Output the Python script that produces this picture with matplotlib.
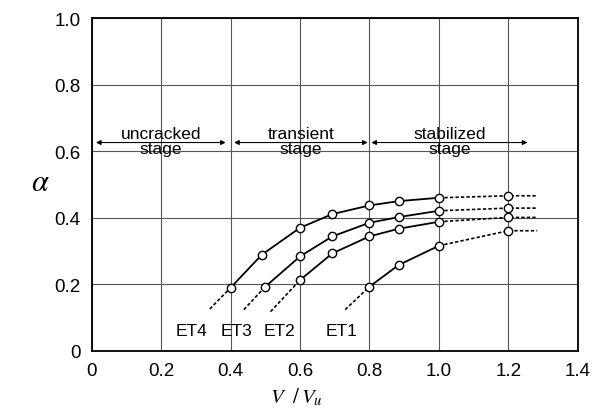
import matplotlib
matplotlib.use("Agg")
import matplotlib.pyplot as plt

plt.rcParams['font.family'] = ['Liberation Sans', 'DejaVu Sans']
plt.rcParams['mathtext.fontset'] = 'stix'

# ---- data ----
series = ["ET4", "ET3", "ET2", "ET1"]
x_et4 = [0.40, 0.49, 0.60, 0.693, 0.80, 0.884, 1.00]
a_et4 = [0.19, 0.289, 0.37, 0.411, 0.437, 0.450, 0.460]
x_et3 = [0.50, 0.60, 0.693, 0.80, 0.884, 1.00]
a_et3 = [0.193, 0.284, 0.344, 0.385, 0.402, 0.421]
x_et2 = [0.60, 0.693, 0.80, 0.884, 1.00]
a_et2 = [0.213, 0.293, 0.344, 0.367, 0.388]
x_et1 = [0.80, 0.884, 1.00]
a_et1 = [0.193, 0.258, 0.316]
# extrapolated points at V/Vu = 1.2
x_ext = 1.2
a_ext = [0.466, 0.429, 0.401, 0.361]
x_tail = 1.283
# start of leading dashed segments
x_lead = [0.34, 0.438, 0.515, 0.73]
a_lead = [0.126, 0.124, 0.118, 0.124]
# label positions
x_lab = [0.288, 0.416, 0.542, 0.72]
y_lab = 0.060

xticks = [0, 0.2, 0.4, 0.6, 0.8, 1.0, 1.2, 1.4]
xticklabels = ["0", "0.2", "0.4", "0.6", "0.8", "1.0", "1.2", "1.4"]
yticks = [0, 0.2, 0.4, 0.6, 0.8, 1.0]
yticklabels = ["0", "0.2", "0.4", "0.6", "0.8", "1.0"]

stages = [("uncracked\nstage", 0.012, 0.386), ("transient\nstage", 0.41, 0.795),
          ("stabilized\nstage", 0.805, 1.255)]
stage_y = 0.626

fig = plt.figure(figsize=(5.92, 4.14), dpi=100)
ax = fig.add_axes([0.155, 0.150, 0.821, 0.804])
ax.set_xlim(0, 1.4)
ax.set_ylim(0, 1.0)
ax.set_xticks(xticks)
ax.set_xticklabels(xticklabels)
ax.set_yticks(yticks)
ax.set_yticklabels(yticklabels)
ax.tick_params(length=0, labelsize=13.5, pad=8)
ax.grid(True, color='#555555', lw=0.8)
ax.set_axisbelow(True)
for s in ax.spines.values():
    s.set_linewidth(1.3)
    s.set_color('black')

xs = [x_et4, x_et3, x_et2, x_et1]
ys = [a_et4, a_et3, a_et2, a_et1]
mk = dict(marker='o', ms=6, mfc='white', mec='black', mew=1.0)
for i in range(4):
    ax.plot([x_lead[i], xs[i][0]], [a_lead[i], ys[i][0]], ls=(0, (2, 1.3)), color='black', lw=1.2, zorder=2)
    ax.plot([xs[i][-1], x_ext, x_tail], [ys[i][-1], a_ext[i], a_ext[i]], ls=(0, (2, 1.3)),
            color='black', lw=1.2, zorder=2)
    ax.plot([x_ext], [a_ext[i]], ls='none', zorder=4, **mk)
    ax.plot(xs[i], ys[i], color='black', lw=1.3, zorder=3, **mk)
    ax.text(x_lab[i], y_lab, series[i], ha='center', va='center', fontsize=12.5)

for label, x0, x1 in stages:
    ax.annotate('', xy=(x1, stage_y), xytext=(x0, stage_y),
                arrowprops=dict(arrowstyle='<|-|>', mutation_scale=7, lw=0.8,
                                color='black', shrinkA=0, shrinkB=0))
    ax.text((x0 + x1) / 2, stage_y + 0.005, label, ha='center', va='center',
            fontsize=12.5, linespacing=1.0)

fig.text(0.068, 0.558, r'$\alpha$', fontsize=22, ha='center', va='center')
fig.text(0.5, 0.04, r'$V\ \ /\,V_u$', fontsize=15, ha='center', va='center')

fig.savefig('out.png', dpi=100)
